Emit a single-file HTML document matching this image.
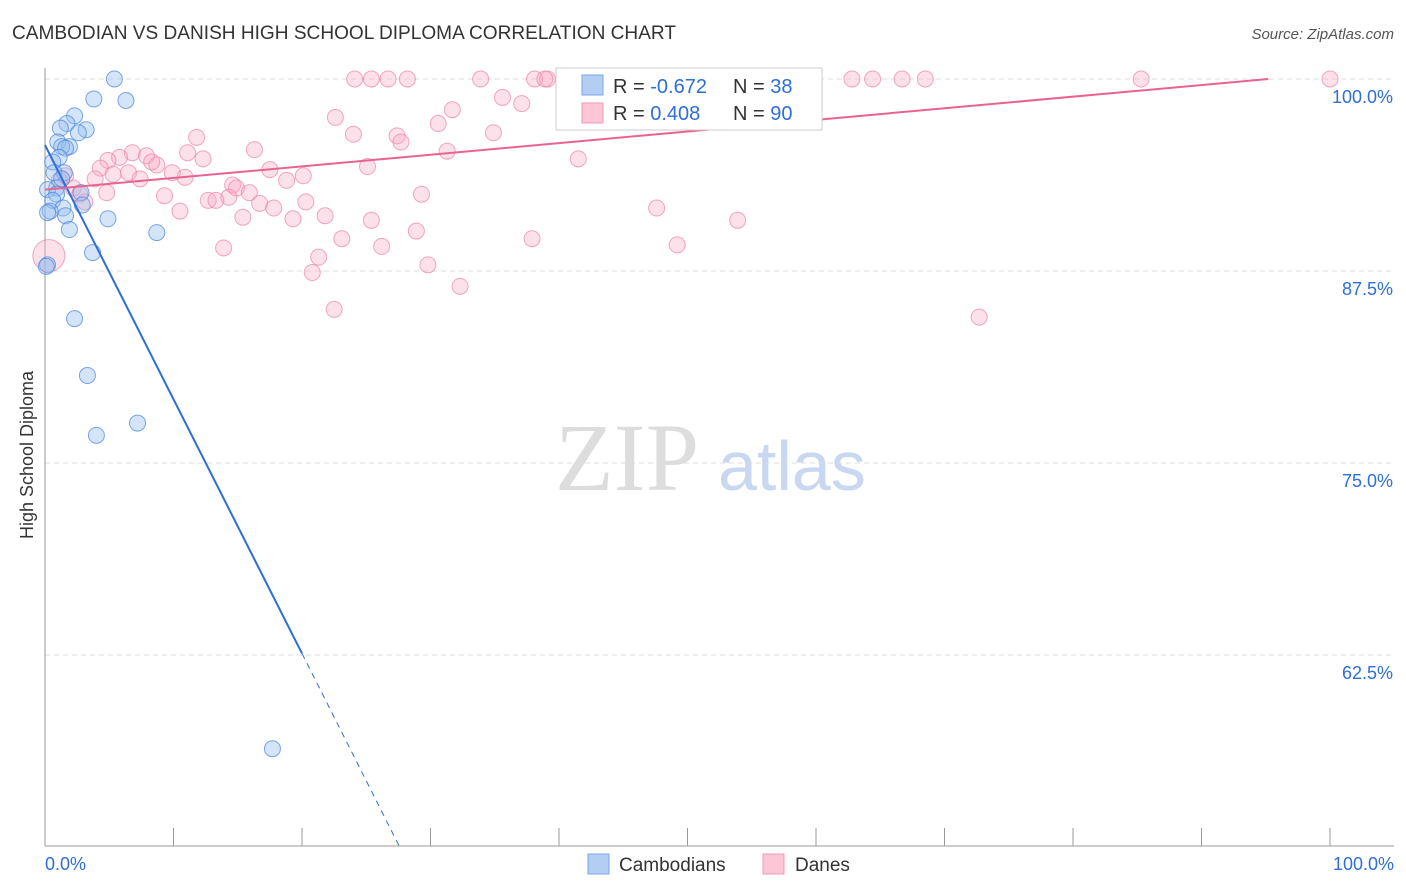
<!DOCTYPE html>
<html><head><meta charset="utf-8"><style>
body{margin:0;background:#fff;font-family:"Liberation Sans",sans-serif;}
svg{display:block}
</style></head><body>
<svg id="c" width="1406" height="892" xmlns="http://www.w3.org/2000/svg">
<text x="12" y="39" font-size="19" fill="#333" textLength="664" lengthAdjust="spacingAndGlyphs">CAMBODIAN VS DANISH HIGH SCHOOL DIPLOMA CORRELATION CHART</text>
<text x="1394" y="39" font-size="15" fill="#555" font-style="italic" text-anchor="end">Source: ZipAtlas.com</text>
<text x="33" y="455" font-size="18" fill="#333" text-anchor="middle" transform="rotate(-90 33 455)">High School Diploma</text>
<text x="555" y="490" font-size="96" fill="#ddd" font-family="Liberation Serif,serif">ZIP</text>
<text x="718" y="490" font-size="70" fill="#c8d8f0">atlas</text>
<g id="grid"></g><g id="pts"></g><g id="lines"></g>
<g>
<rect x="556" y="68" width="266" height="62" fill="#fff" stroke="#ccc"/>
<rect x="582" y="75" width="21" height="20" fill="#b3cdf3" stroke="#7aa6e6"/>
<rect x="582" y="103" width="21" height="20" fill="#fcc6d6" stroke="#f09ab4"/>
<text x="613" y="93" font-size="20" fill="#333">R = <tspan fill="#2d6fd6">-0.672</tspan></text>
<text x="733" y="93" font-size="20" fill="#333">N = <tspan fill="#2d6fd6"> 38</tspan></text>
<text x="613" y="120" font-size="20" fill="#333">R = <tspan fill="#2d6fd6"> 0.408</tspan></text>
<text x="733" y="120" font-size="20" fill="#333">N = <tspan fill="#2d6fd6">90</tspan></text>
</g>
<g>
<rect x="588" y="854" width="21" height="20" fill="#b3cdf3" stroke="#7aa6e6"/>
<text x="619" y="871" font-size="19" fill="#333">Cambodians</text>
<rect x="763" y="854" width="21" height="20" fill="#fcc6d6" stroke="#f09ab4"/>
<text x="795" y="871" font-size="19" fill="#333">Danes</text>
</g>
<text x="45" y="870" font-size="18" fill="#2d6fd6">0.0%</text>
<text x="1394" y="870" font-size="18" fill="#2d6fd6" text-anchor="end">100.0%</text>
</svg>
<script>
const yTicks=[100,87.5,75,62.5];
const yTickLabels=["100.0%","87.5%","75.0%","62.5%"];
const camX=[5.4,3.8,6.3,2.3,1.7,3.2,1.2,2.6,1,1.9,1.3,1.6,1.1,0.6,1.5,0.9,2.8,0.2,0.9,0.6,2.9,1.4,0.4,0.2,1.6,4.9,1.9,8.7,3.7,0.2,2.3,3.3,4.0,7.2,17.7,0.7,1.3,0.1];
const camY=[100,98.7,98.6,97.6,97.1,96.7,96.8,96.5,95.9,95.6,95.6,95.5,94.9,94.6,93.9,92.9,92.6,92.8,92.5,92.1,91.8,91.6,91.4,91.3,91.1,90.9,90.2,90,88.7,87.9,84.4,80.7,76.8,77.6,56.4,93.9,93.5,87.8];
const danX=[24.1,25.4,26.7,28.2,33.9,38.1,39.1,38.9,45.8,52.4,58.3,62.8,64.4,66.7,68.5,85.3,100,35.6,37.1,31.7,22.6,30.6,34.9,24.0,27.4,27.7,11.8,16.3,31.3,41.5,6.8,7.9,5.8,4.9,11.1,12.3,8.7,4.3,8.3,25.1,17.5,6.5,5.3,7.4,9.9,10.9,3.9,1.6,18.8,20.1,14.6,2.2,2.7,14.9,15.9,14.3,9.3,29.3,3.1,12.7,13.3,16.7,17.8,20.3,10.5,19.3,21.8,15.4,25.4,47.6,53.9,28.9,23.1,37.9,26.2,13.9,49.2,21.3,29.8,20.8,32.3,22.5,72.7,0.3,1.1,4.8];
const danY=[100,100,100,100,100,100,100,100,100,100,100,100,100,100,100,100,100,98.8,98.4,98,97.5,97.1,96.5,96.4,96.3,95.9,96.2,95.4,95.3,94.8,95.2,95,94.9,94.7,95.2,94.8,94.4,94.2,94.6,94.3,94.1,93.9,93.8,93.5,93.9,93.6,93.5,93.7,93.4,93.7,93.1,92.9,92.5,92.9,92.6,92.3,92.4,92.5,92,92.1,92.1,91.9,91.6,92,91.4,90.9,91.1,91,90.8,91.6,90.8,90.1,89.6,89.6,89.1,89,89.2,88.4,87.9,87.4,86.5,85,84.5,88.5,93.4,92.6];
const camLine=[[0,95.7],[20,62.6]], camDash=[[20,62.6],[27.6,50]];
const danLine=[[0,92.8],[95.2,100]];
const X=v=>45+v*12.85, Y=v=>79+(100-v)*15.36;
const NS="http://www.w3.org/2000/svg";
function mk(t,a,p){const e=document.createElementNS(NS,t);for(const k in a)e.setAttribute(k,a[k]);p.appendChild(e);return e;}
const g=document.getElementById('grid');
yTicks.forEach((t,i)=>{
 const l=mk('line',{x1:45,x2:1394,y1:Y(t),y2:Y(t),stroke:'#ddd','stroke-dasharray':'5,4'},g);
 
 
 const tx=mk('text',{x:1393,y:Y(t)+24,'font-size':18,fill:'#2d6fd6','text-anchor':'end'},g);
 tx.textContent=yTickLabels[i];
 
 
});
const ax=mk('line',{x1:45,x2:45,y1:68,y2:846,stroke:'#999'},g);


const bx=mk('line',{x1:45,x2:1394,y1:846,y2:846,stroke:'#999'},g);


for(let i=0;i<=10;i++){const t=mk('line',{x1:X(i*10),x2:X(i*10),y1:828,y2:846,stroke:'#999'},g);
 
 }
const p=document.getElementById('pts');
danX.forEach((x,i)=>{const c=mk('circle',{cx:X(x),cy:Y(danY[i]),r:(i==83?16:8),fill:'rgba(248,170,195,0.35)',stroke:'rgba(236,130,165,0.7)','stroke-width':1},p);
 
 });
camX.forEach((x,i)=>{const c=mk('circle',{cx:X(x),cy:Y(camY[i]),r:8,fill:'rgba(150,190,240,0.4)',stroke:'rgba(70,130,220,0.7)','stroke-width':1},p);
 
 });
const L=document.getElementById('lines');
const a=mk('line',{x1:X(camLine[0][0]),y1:Y(camLine[0][1]),x2:X(camLine[1][0]),y2:Y(camLine[1][1]),stroke:'#2d6fd6','stroke-width':2},L);


const b=mk('line',{x1:X(camDash[0][0]),y1:Y(camDash[0][1]),x2:X(camDash[1][0]),y2:Y(camDash[1][1]),stroke:'#2d6fd6','stroke-width':1,'stroke-dasharray':'6,5'},L);


const d=mk('line',{x1:X(danLine[0][0]),y1:Y(danLine[0][1]),x2:X(danLine[1][0]),y2:Y(danLine[1][1]),stroke:'#e8648f','stroke-width':2},L);


</script>
</body></html>
